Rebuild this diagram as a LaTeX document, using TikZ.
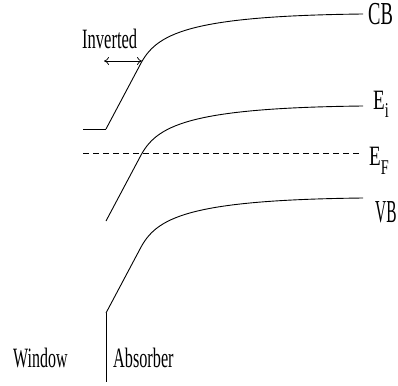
\documentclass[tikz,border=0pt]{standalone}
\usepackage{fontspec}
\setmainfont{Liberation Serif}
\usepackage{graphicx}
\usetikzlibrary{arrows.meta}

% narrow labels, as in the band plots
\newcommand{\squeeze}[2][0.58]{\scalebox{#1}[1]{#2}}
\newcommand{\lvl}[2]{\squeeze[0.68]{E\lower#2\hbox{\fontsize{21}{21}\selectfont #1}}}

\tikzset{
	band/.style={line width=0.9pt, line join=round},
	lbl/.style={inner sep=0pt, anchor=base west, font=\fontsize{28}{30}\selectfont},
}

\begin{document}
\begin{tikzpicture}[x=1pt, y=-1pt]
	\useasboundingbox (0,0) rectangle (398,385);

	% bands: same bent shape, shifted down
	\foreach \y in {129,221,313} {
		\begin{scope}[shift={(106,\y)}]
			\draw[band] (0,0) -- (34,-64) .. controls (50,-95) and (80,-113) .. (257,-115);
		\end{scope}
	}
	\draw[band] (83,129) -- (106,129);
	\draw[line width=0.7pt] (106,313) -- (106,382);

	% Fermi level
	\draw[line width=0.7pt, dash pattern=on 6pt off 4pt] (83,153) -- (361,153);

	\node[lbl] (cb) at (368,25) {\squeeze[0.58]{\fontsize{32}{34}\selectfont CB}};
	\node[lbl] (ei) at (373,109) {\lvl{i}{8pt}};
	\node[lbl] (ef) at (369,165) {\lvl{F}{9pt}};
	\node[lbl] (vb) at (375,222) {\squeeze[0.48]{\fontsize{32}{34}\selectfont VB}};

	\node[lbl] (win) at (13,367) {\squeeze[0.57]{Window}};
	\node[lbl] (abs) at (113,367) {\squeeze[0.58]{Absorber}};

	\node[lbl] (inv) at (82,49) {\squeeze[0.59]{Inverted}};
	\coordinate (invl) at (104,61);
	\coordinate (invr) at (142,61);
	\draw[line width=0.7pt, {To[length=5pt,width=8pt]}-{To[length=5pt,width=8pt]}] (invl) -- (invr);
\end{tikzpicture}
\end{document}
